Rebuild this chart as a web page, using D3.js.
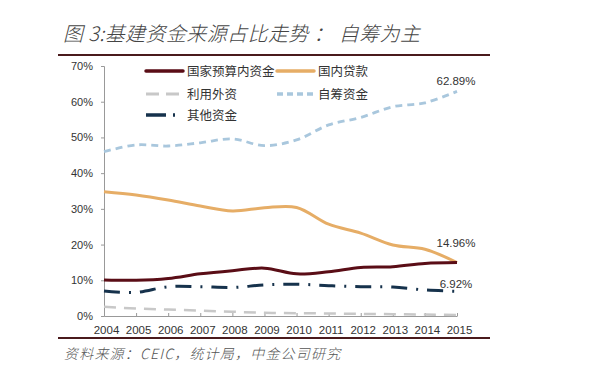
<!DOCTYPE html>
<html><head><meta charset="utf-8">
<script src="https://cdn.jsdelivr.net/npm/d3@7"></script>
<style>body{margin:0;background:#fff;}svg{display:block;}</style>
</head><body>
<svg id="c" width="600" height="378"></svg>
<script>
const years = ["2004","2005","2006","2007","2008","2009","2010","2011","2012","2013","2014","2015"];
const budget   = [10.1,10.0,10.5,11.8,12.7,13.4,11.8,12.4,13.6,13.8,14.7,14.96];
const loans    = [34.8,33.9,32.5,30.8,29.4,30.3,30.4,25.7,23.2,19.9,18.7,14.96];
const foreign  = [2.6,2.1,1.8,1.5,1.2,0.9,0.8,0.7,0.6,0.5,0.4,0.3];
const selfRaised = [46.0,47.9,47.6,48.5,49.6,47.7,49.3,53.5,55.6,58.6,59.7,62.89];
const others   = [7.0,6.6,8.2,8.2,8.0,8.7,8.9,8.5,8.2,8.1,7.3,6.92];
const yTicks = [0,10,20,30,40,50,60,70];
const seriesNames = ["国家预算内资金","国内贷款","利用外资","自筹资金","其他资金"];
const endLabels = ["62.89%","14.96%","6.92%"];

const svg = d3.select("#c");
const cjk = "'Noto Sans CJK SC', sans-serif";
const latin = "'Liberation Sans', Arial, sans-serif";

// title
svg.append("text").attr("x",63).attr("y",41).attr("font-family",cjk)
  .attr("font-style","italic").attr("font-weight",300).attr("font-size",20)
  .attr("letter-spacing",0.4).attr("fill","#444")
  .text("图 3:基建资金来源占比走势 ： 自筹为主");
svg.append("line").attr("x1",58).attr("x2",490).attr("y1",55).attr("y2",55)
  .attr("stroke","#4a1a1c").attr("stroke-width",2);
svg.append("line").attr("x1",58).attr("x2",490).attr("y1",338).attr("y2",338)
  .attr("stroke","#4a1a1c").attr("stroke-width",2);
svg.append("text").attr("x",64).attr("y",359).attr("font-family",cjk)
  .attr("font-style","italic").attr("font-weight",300).attr("font-size",14)
  .attr("letter-spacing",1.2).attr("fill","#555")
  .text("资料来源：CEIC，统计局，中金公司研究");

const x = d3.scalePoint().domain(years).range([104,457]);
const y = d3.scaleLinear().domain([0,70]).range([316,66]);

// axes
const yAxis = d3.axisLeft(y).tickValues(yTicks).tickFormat(d=>d+"%").tickSize(3).tickPadding(8);
const gy = svg.append("g").attr("transform","translate(104,0)").call(yAxis);
gy.select(".domain").attr("stroke","#999");
gy.selectAll(".tick line").attr("stroke","#999");
gy.selectAll("text").attr("font-family",latin).attr("font-size",11).attr("fill","#333");

const xAxis = d3.axisBottom(x).tickSize(-3).tickPadding(8).tickSizeOuter(0);
const gx = svg.append("g").attr("transform","translate(0,316)").call(xAxis);
gx.select(".domain").attr("stroke","#999");
gx.selectAll(".tick line").attr("stroke","#999");
gx.selectAll("text").attr("font-family",latin).attr("font-size",11.5).attr("fill","#333").attr("dx",2).attr("y",10);

const line = d3.line().x((d,i)=>x(years[i])).y(d=>y(d)).curve(d3.curveCatmullRom.alpha(0.5));

const styles = [
  {data:budget, color:"#5a0d16", w:3, dash:null},
  {data:loans, color:"#e6ad66", w:3, dash:null},
  {data:foreign, color:"#c8c8c8", w:2.5, dash:"12,8"},
  {data:selfRaised, color:"#a9c7dd", w:2.8, dash:"7,5"},
  {data:others, color:"#16324c", w:3, dash:"16,9,2,9"}
];
[3,2,4,1,0].forEach(k=>{
  const s = styles[k];
  svg.append("path").datum(s.data).attr("d",line).attr("fill","none")
    .attr("stroke",s.color).attr("stroke-width",s.w)
    .attr("stroke-dasharray",s.dash).attr("stroke-linecap","butt");
});

// legend
const legendPos = [[146,71],[277,71],[146,94],[277,94],[146,115]];
const legendDash = [null,null,"13,7,13","6,4,6,4,6,4","20,7,2"];
seriesNames.forEach((n,i)=>{
  const [lx,ly] = legendPos[i];
  const s = styles[i];
  svg.append("line").attr("x1",lx).attr("x2",lx+37).attr("y1",ly).attr("y2",ly)
    .attr("stroke",s.color).attr("stroke-width",s.w+0.5).attr("stroke-dasharray",legendDash[i])
    .attr("stroke-linecap",i<2?"round":"butt");
  svg.append("text").attr("x",lx+41).attr("y",ly+4.5).attr("font-family",cjk)
    .attr("font-size",12.5).attr("fill","#333").text(n);
});

// end labels
const endY = [81,243,284];
endLabels.forEach((t,i)=>{
  svg.append("text").attr("x",456).attr("y",endY[i]+4).attr("text-anchor","middle")
    .attr("font-family",latin).attr("font-size",11.5).attr("fill","#333").text(t);
});
</script>
</body></html>
